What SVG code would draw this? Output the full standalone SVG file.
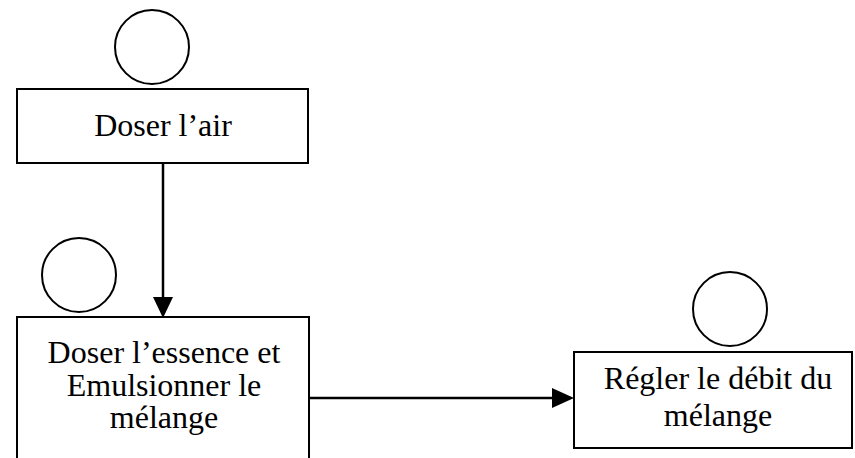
<svg xmlns="http://www.w3.org/2000/svg" width="855" height="458" viewBox="0 0 855 458">
<defs>
<style>
.box{fill:#fff;stroke:#000;stroke-width:2}
.c{fill:none;stroke:#000;stroke-width:2}
.t{font-family:"Liberation Serif","Times New Roman",serif;font-size:32px;fill:#000;text-anchor:middle}
.line{stroke:#000;stroke-width:2.5;fill:none}
.head{fill:#000}
</style>
</defs>
<rect width="855" height="458" fill="#fff"/>
<g id="connectors">
<path class="line" d="M163,164 V300"/>
<path class="head" d="M153,297 L173,297 L163,318 Z"/>
<path class="line" d="M309,398 H556"/>
<path class="head" d="M552,388 L574,398 L552,408 Z"/>
</g>
<g id="n1">
<circle class="c" cx="152" cy="47" r="37"/>
<rect class="box" x="17" y="89" width="291" height="74"/>
<text class="t" x="163" y="136">Doser l’air</text>
</g>
<g id="n2">
<circle class="c" cx="79" cy="275" r="37"/>
<rect class="box" x="17" y="317" width="292" height="150"/>
<text class="t" x="164" y="363">Doser l’essence et</text>
<text class="t" x="164" y="396">Emulsionner le</text>
<text class="t" x="164" y="428">mélange</text>
</g>
<g id="n3">
<circle class="c" cx="730" cy="309" r="37"/>
<rect class="box" x="574" y="352" width="278" height="96"/>
<text class="t" x="718" y="389">Régler le débit du</text>
<text class="t" x="718" y="426">mélange</text>
</g>
</svg>
